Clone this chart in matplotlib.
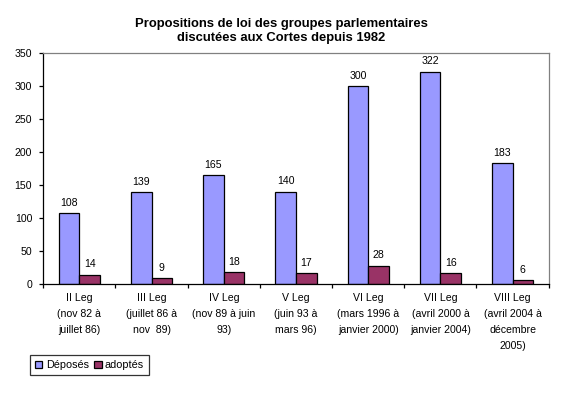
import matplotlib
matplotlib.use("Agg")
import matplotlib.pyplot as plt
import numpy as np

plt.rcParams['font.family'] = ['Liberation Sans', 'DejaVu Sans']

categories = ["II Leg\n(nov 82 à\njuillet 86)",
              "III Leg\n(juillet 86 à\nnov  89)",
              "IV Leg\n(nov 89 à juin\n93)",
              "V Leg\n(juin 93 à\nmars 96)",
              "VI Leg\n(mars 1996 à\njanvier 2000)",
              "VII Leg\n(avril 2000 à\njanvier 2004)",
              "VIII Leg\n(avril 2004 à\ndécembre\n2005)"]
deposes = [108, 139, 165, 140, 300, 322, 183]
adoptes = [14, 9, 18, 17, 28, 16, 6]
yticks = [0, 50, 100, 150, 200, 250, 300, 350]

W, H = 563, 398
fig = plt.figure(figsize=(W/100, H/100), dpi=100)
ax = fig.add_axes([43.3/W, 1-284/H, 505.4/W, 230.7/H])

x = np.arange(len(categories))
bw = 0.285
b1 = ax.bar(x - bw/2, deposes, bw, color='#9999FF', edgecolor='black', linewidth=0.9, label='Déposés')
b2 = ax.bar(x + bw/2, adoptes, bw, color='#993366', edgecolor='black', linewidth=0.9, label='adoptés')
fs = 7.6
for r, v in zip(b1, deposes):
    ax.text(r.get_x()+r.get_width()/2, v+8, str(v), ha='center', va='bottom', fontsize=fs)
for r, v in zip(b2, adoptes):
    ax.text(r.get_x()+r.get_width()/2, v+8, str(v), ha='center', va='bottom', fontsize=fs)

ax.set_xlim(-0.5, len(categories)-0.5)
ax.set_ylim(0, 350)
ax.set_yticks(yticks)
ax.set_yticklabels([str(t) for t in yticks], fontsize=fs)
ax.set_xticks(np.arange(len(categories)+1)-0.5)
ax.set_xticklabels([])
ax.tick_params(axis='both', direction='out', length=3, width=0.9, color='black')
ax.tick_params(axis='y', pad=5)
for i, c in enumerate(categories):
    ax.text(i, -13, c, ha='center', va='top', fontsize=fs, linespacing=1.75,
            transform=ax.transData)
for s in ['top', 'right']:
    ax.spines[s].set_color('#808080')
for s in ['left', 'bottom']:
    ax.spines[s].set_color('black')
for s in ax.spines.values():
    s.set_linewidth(0.9)

fig.text(281/W, 1-31/H, "Propositions de loi des groupes parlementaires\ndiscutées aux Cortes depuis 1982",
         ha='center', va='center', fontsize=9.4, fontweight='bold', linespacing=1.25)

leg = fig.legend(handles=[b1, b2], loc='lower left', bbox_to_anchor=(30/W, 1-375/H),
                 ncol=2, fontsize=7.8, frameon=True, fancybox=False, edgecolor='black',
                 handlelength=0.7, handleheight=0.7, handletextpad=0.3, columnspacing=0.5,
                 borderpad=0.45, borderaxespad=0)
leg.get_frame().set_linewidth(0.9)

fig.savefig('out.png', dpi=100)
